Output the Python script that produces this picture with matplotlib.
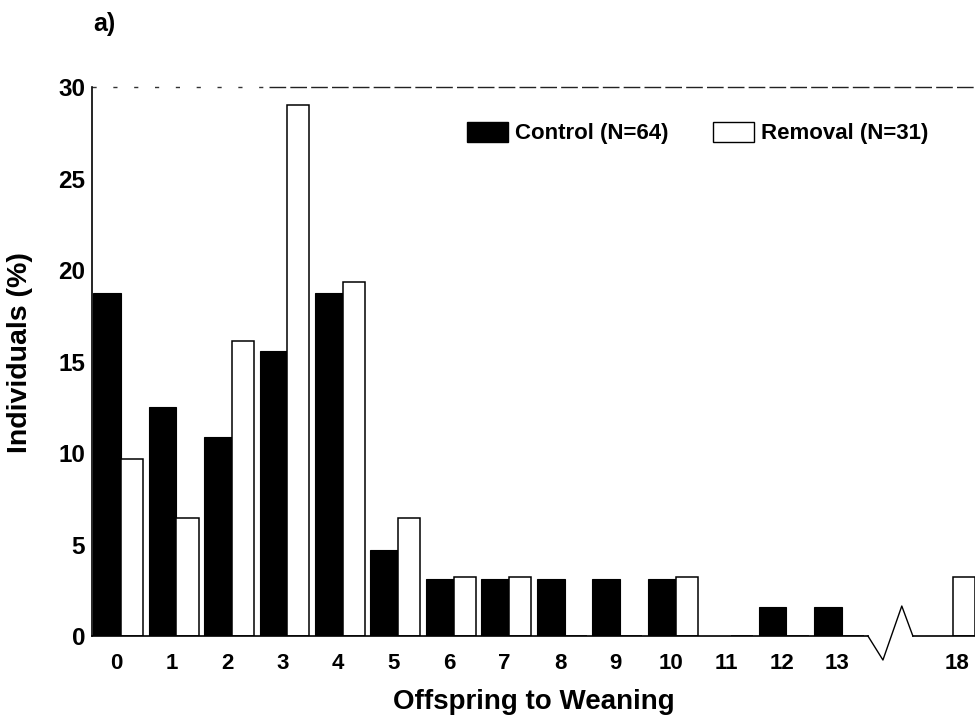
import numpy as np
import matplotlib
matplotlib.use("Agg")
import matplotlib.pyplot as plt
from matplotlib.patches import Patch

plt.rcParams['font.family'] = ['Liberation Sans', 'DejaVu Sans']
plt.rcParams['font.weight'] = 'bold'

# offspring weaned per individual, % of individuals
offspring = ["0", "1", "2", "3", "4", "5", "6", "7", "8", "9", "10", "11", "12", "13", "18"]
control = [18.75, 12.5, 10.9, 15.6, 18.75, 4.7, 3.1, 3.1, 3.1, 3.1, 3.1, 0, 1.56, 1.56, 0]
removal = [9.7, 6.45, 16.1, 29.0, 19.35, 6.45, 3.2, 3.2, 0, 0, 3.2, 0, 0, 0, 3.2]

# 0..13 sit side by side, 18 goes past the axis break
pos = np.arange(len(offspring), dtype=float)
pos[-1] = 15.0

fig = plt.figure(figsize=(9.75, 7.19), dpi=100)
ax = fig.add_axes([0.0944, 0.1154, 0.9056, 0.7636])

wc, wr = 0.5, 0.4
ax.bar(pos - wc / 2, control, width=wc, color="black", edgecolor="black", linewidth=0.8)
ax.bar(pos + wr / 2, removal, width=wr, color="white", edgecolor="black", linewidth=1.1)

xmin, xmax = -0.52, 15.4
ax.set_xlim(xmin, xmax)
ax.set_ylim(0, 30)
ax.set_yticks([0, 5, 10, 15, 20, 25, 30])
tick_pos = pos - 0.08
tick_pos[-1] += 0.15
ax.set_xticks(tick_pos)
ax.set_xticklabels(offspring)
ax.tick_params(length=0)
ax.tick_params(axis="x", labelsize=16, pad=12)
ax.tick_params(axis="y", labelsize=17.5, pad=5)

for s in ["right", "bottom", "top"]:
    ax.spines[s].set_visible(False)
ax.spines["left"].set_linewidth(1.2)

# ragged top border: sparse on the left, near solid on the right
ax.plot([xmin, 2.67], [30, 30], color="#333333", lw=1.0, ls=(0, (3, 12)), clip_on=False)
ax.plot([2.67, xmax], [30, 30], color="#222222", lw=1.0, ls=(0, (12, 3)), clip_on=False)

# baseline with a zigzag break before 18
ax.plot([xmin, 13.47], [0, 0], color="black", lw=1.2, clip_on=False)
ax.plot([13.47, 13.74, 14.08, 14.28], [0, -1.31, 1.64, 0], color="black", lw=1.0, clip_on=False)
ax.plot([14.28, xmax], [0, 0], color="black", lw=1.2, clip_on=False)

ax.set_xlabel("Offspring to Weaning", fontsize=20, fontweight="bold")
ax.xaxis.set_label_coords(0.50, -0.0965)
ax.set_ylabel("Individuals (%)", fontsize=20.5, fontweight="bold")
ax.yaxis.set_label_coords(-0.067, 0.517)

handles = [Patch(facecolor="black", edgecolor="black", label="Control (N=64)"),
           Patch(facecolor="white", edgecolor="black", label="Removal (N=31)")]
ax.legend(handles=handles, ncol=2, frameon=False, loc="center left",
          bbox_to_anchor=(467 / 975, 0.815), bbox_transform=fig.transFigure,
          borderpad=0, borderaxespad=0, fontsize=16, handlelength=1.85,
          handleheight=1.0, handletextpad=0.32, columnspacing=2.0)

fig.text(93 / 975, 0.983, "a)", fontsize=18, fontweight="bold", va="top")

fig.savefig("out.png", dpi=100)
